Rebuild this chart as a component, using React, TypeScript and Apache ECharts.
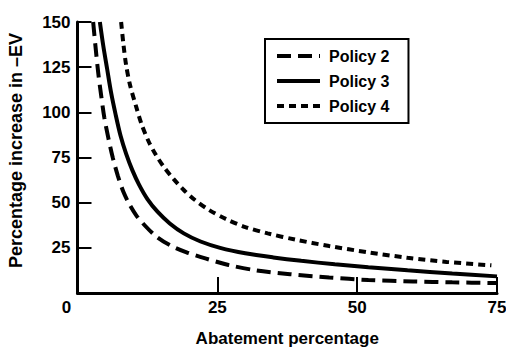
import React, { useEffect, useRef } from "react";
import * as echarts from "echarts";

const seriesNames = ["Policy 2", "Policy 3", "Policy 4"];

const policy2: [number, number][] = [
  [2.8, 150], [3.2, 137], [3.7, 122], [4.2, 110], [4.8, 97], [5.5, 86], [6.3, 75],
  [7.2, 65], [8.2, 56], [9.3, 49], [10.5, 43], [12, 37.5], [14, 31.5], [16.5, 26.5],
  [19.5, 22.5], [23, 19], [27, 15.5], [32, 12.5], [38, 10.4], [45, 8.6], [52, 7.2],
  [60, 6.4], [67, 5.9], [75, 5.5],
];
const policy3: [number, number][] = [
  [4.0, 150], [4.6, 137], [5.3, 124], [6.0, 111], [6.8, 99], [7.7, 87], [8.7, 77],
  [9.8, 68], [11, 60], [12.5, 52], [14.3, 45], [16.5, 38.5], [19, 33], [22, 28.5],
  [25.5, 25], [30, 22], [35, 19.7], [40, 17.8], [46, 15.9], [52, 14.3], [59, 12.6],
  [67, 10.8], [75, 9.2],
];
const policy4: [number, number][] = [
  [7.8, 150], [8.2, 138], [8.7, 126], [9.4, 115], [10.5, 103], [11.5, 93], [12.7, 84],
  [14, 76.5], [15.5, 69.5], [17.2, 63], [19, 57], [21, 51.5], [23.5, 46], [26.5, 41],
  [30, 36.5], [34, 33], [39, 29.5], [45, 26], [52, 22.5], [59, 19.5], [66, 17.2],
  [74, 15.3],
];

const xTicks = [0, 25, 50, 75];
const yTicks = [0, 25, 50, 75, 100, 125, 150];

const FONT = "Liberation Sans";

export default function App() {
  const ref = useRef<HTMLDivElement>(null);
  useEffect(() => {
    if (!ref.current) return;
    const chart = echarts.init(ref.current, null, { renderer: "svg" });
    const lineBase = { color: "#000", width: 4 };
    chart.setOption({
      animation: false,
      backgroundColor: "#fff",
      grid: { left: 77.5, right: 9, top: 22, bottom: 56, outerBoundsMode: "none" },
      legend: {
        orient: "vertical",
        left: 265,
        top: 39,
        padding: [9, 19, 9, 10],
        itemGap: 9,
        itemWidth: 43,
        itemHeight: 14,
        borderColor: "#000",
        borderWidth: 2,
        data: seriesNames,
        itemStyle: { opacity: 0, color: "transparent", borderWidth: 0 },
        lineStyle: { width: 4, color: "#000" },
        textStyle: { fontFamily: FONT, fontWeight: "bold", fontSize: 16, color: "#000", padding: [0, 0, 0, 4] },
      },
      xAxis: {
        type: "value",
        min: xTicks[0],
        max: xTicks[xTicks.length - 1],
        interval: 25,
        name: "Abatement percentage",
        nameLocation: "middle",
        nameGap: 37,
        nameTextStyle: { fontFamily: FONT, fontWeight: "bold", fontSize: 17, color: "#000" },
        axisLine: { lineStyle: { color: "#000", width: 3 } },
        axisTick: { inside: true, length: 16, lineStyle: { color: "#000", width: 2 } },
        splitLine: { show: false },
        axisLabel: {
          margin: 6,
          fontFamily: FONT,
          fontWeight: "bold",
          fontSize: 17,
          color: "#000",
          formatter: (v: number) => (v === 0 ? "{zero|0}" : String(v)),
          rich: { zero: { fontFamily: FONT, fontWeight: "bold", fontSize: 17, color: "#000", padding: [0, 22, 0, 0] } },
        },
      },
      yAxis: {
        type: "value",
        min: yTicks[0],
        max: yTicks[yTicks.length - 1],
        interval: 25,
        name: "Percentage increase in \u2013EV",
        nameLocation: "middle",
        nameGap: 53,
        nameTextStyle: { fontFamily: FONT, fontWeight: "bold", fontSize: 18, color: "#000", padding: [0, 0, 0, 14] },
        axisLine: { show: true, lineStyle: { color: "#000", width: 3 } },
        axisTick: { show: true, inside: true, length: 14, lineStyle: { color: "#000", width: 2 } },
        splitLine: { show: false },
        axisLabel: {
          margin: 7,
          fontFamily: FONT,
          fontWeight: "bold",
          fontSize: 17,
          color: "#000",
          formatter: (v: number) => (v === 0 ? "" : String(v)),
        },
      },
      series: [
        {
          name: seriesNames[0], type: "line", data: policy2, showSymbol: false, symbol: "none",
          smooth: 0.3,
          lineStyle: { ...lineBase, type: [14, 7] }, itemStyle: { color: "#000" },
        },
        {
          name: seriesNames[1], type: "line", data: policy3, showSymbol: false, symbol: "none",
          smooth: 0.3,
          lineStyle: { ...lineBase, type: "solid" }, itemStyle: { color: "#000" },
        },
        {
          name: seriesNames[2], type: "line", data: policy4, showSymbol: false, symbol: "none",
          smooth: 0.3,
          lineStyle: { ...lineBase, type: [7, 5] }, itemStyle: { color: "#000" },
        },
      ],
    });
    return () => chart.dispose();
  }, []);
  return <div ref={ref} style={{ position: "fixed", left: 0, top: 0, width: 506, height: 349 }} />;
}
